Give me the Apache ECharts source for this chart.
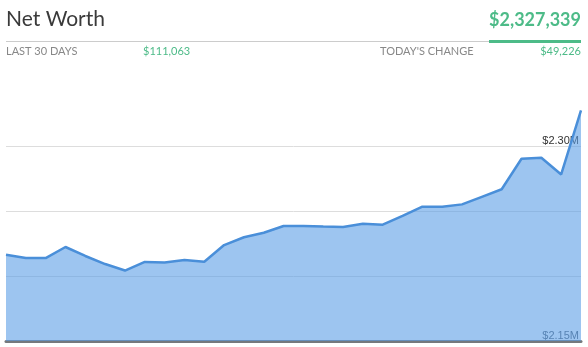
<!DOCTYPE html>
<html>
<head>
<meta charset="utf-8">
<script src="https://cdn.jsdelivr.net/npm/echarts@6/dist/echarts.min.js"></script>
<style>
html,body{margin:0;padding:0;background:#fff;}
#c{width:588px;height:347px;}
</style>
</head>
<body>
<div id="c"></div>
<script>
var days = ['1','2','3','4','5','6','7','8','9','10','11','12','13','14','15','16','17','18','19','20','21','22','23','24','25','26','27','28','29','30'];
var netWorth = [2216276, 2213800, 2213800, 2222300, 2215400, 2209200, 2204200, 2210800, 2210400, 2212300,
                2211000, 2223800, 2229800, 2233300, 2238500, 2238500, 2238000, 2237700, 2240200, 2239500,
                2246200, 2253300, 2253300, 2255100, 2260900, 2266700, 2290200, 2291000, 2278113, 2327339];
var yTickLabels = {'2150000': '$2.15M', '2300000': '$2.30M'};
var title = 'Net Worth';
var totalText = '$2,327,339';
var last30Label = 'LAST 30 DAYS';
var last30Value = '$111,063';
var todayLabel = "TODAY'S CHANGE";
var todayValue = '$49,226';

var green = '#4dbb88';
var chart = echarts.init(document.getElementById('c'), null, {renderer: 'canvas'});
chart.setOption({
  animation: false,
  grid: {left: 6, right: 7, top: 81, bottom: 6, containLabel: false},
  xAxis: {
    type: 'category', data: days, boundaryGap: false,
    axisLine: {show: true, lineStyle: {color: '#75797d', width: 3}},
    axisTick: {show: false}, axisLabel: {show: false}, splitLine: {show: false}
  },
  yAxis: {
    type: 'value', position: 'right', min: 2150000, max: 2350000, interval: 50000,
    axisLine: {show: false}, axisTick: {show: false},
    splitLine: {show: true, lineStyle: {color: ['transparent', '#dddddd', '#dddddd', '#dddddd', 'transparent'], width: 1}},
    axisLabel: {
      inside: true, margin: 2, verticalAlign: 'bottom',
      fontFamily: 'Liberation Sans', fontSize: 11,
      color: function (v) { return Number(v) === 2150000 ? '#4f5a68' : '#333333'; },
      formatter: function (v) { return yTickLabels[String(v)] || ''; }
    }
  },
  series: [{
    type: 'line', data: netWorth, symbol: 'none', smooth: false,
    lineStyle: {color: '#4a8fd9', width: 2.5},
    areaStyle: {color: '#5c9ee6', opacity: 0.6},
    z: 3
  }],
  graphic: [
    {type: 'text', left: 6, top: 9, style: {text: title, font: '400 21px Lato', fill: '#3a3a3a'}},
    {type: 'text', right: 7, top: 11, style: {text: totalText, font: '700 18px Lato', fill: green}},
    {type: 'line', shape: {x1: 6, y1: 41.5, x2: 489, y2: 41.5}, style: {stroke: '#cccccc', lineWidth: 1}},
    {type: 'line', shape: {x1: 489, y1: 41.5, x2: 581, y2: 41.5}, style: {stroke: green, lineWidth: 3}},
    {type: 'text', left: 6, top: 46, style: {text: last30Label, font: '400 11px Lato', fill: '#888888'}},
    {type: 'text', left: 143, top: 46, style: {text: last30Value, font: '400 11px Lato', fill: green}},
    {type: 'text', left: 380, top: 46, style: {text: todayLabel, font: '400 11px Lato', fill: '#888888'}},
    {type: 'text', right: 7, top: 46, style: {text: todayValue, font: '400 11px Lato', fill: green}}
  ]
});
</script>
</body>
</html>
